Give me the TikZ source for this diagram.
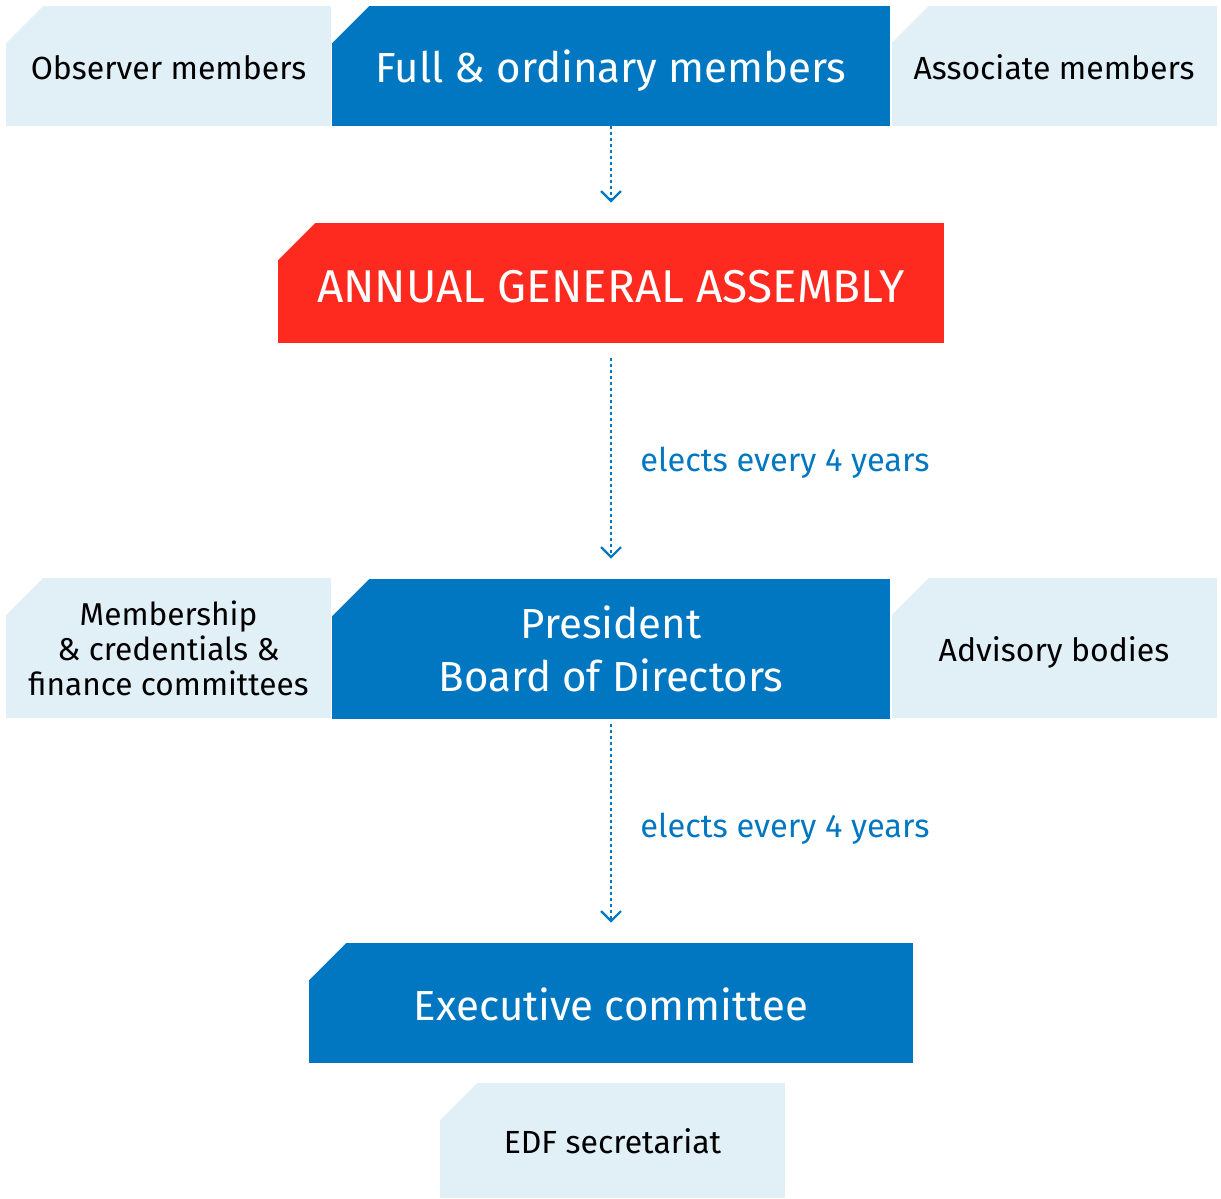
\documentclass[tikz,border=0pt]{standalone}
\usepackage{fontspec}
\setmainfont{Fira Sans}
\usepackage{tikz}
\usetikzlibrary{arrows.meta}
\definecolor{edfblue}{HTML}{0077C0}
\definecolor{edflight}{HTML}{E1EFF7}
\definecolor{edfred}{HTML}{FF2A1F}
\tikzstyle{cutbox}=[inner sep=0pt,align=center,
  path picture={\fill[white] (path picture bounding box.north west) -- ++(18.5pt,0pt) -- ++(-18.5pt,-18.5pt) -- cycle;}]

\begin{document}
\begin{tikzpicture}[x=0.5pt,y=-0.5pt]
\tikzstyle{side}=[cutbox,fill=edflight,text=black,minimum width=162.5pt,font=\fontsize{16}{17.5}\selectfont]
\tikzstyle{main}=[cutbox,fill=edfblue,text=white,font=\fontsize{21}{26.5}\selectfont]
\tikzstyle{sideline}=[text height=13pt,text depth=0pt]
\tikzstyle{mainline}=[text height=17pt,text depth=0pt]
\tikzstyle{link}=[edfblue,line width=1.1pt,dash pattern=on 1.1pt off 1.9pt,-{Straight Barb[length=5pt,width=10pt]},shorten >=10pt]
\tikzstyle{note}=[anchor=base west,inner sep=0pt,text=edfblue,font=\fontsize{16.3}{20}\selectfont]
\useasboundingbox (0,0) rectangle (1221,1199);
  % top row
  \node[side,sideline,minimum height=60pt] (obs) at (168.5,66) {Observer members};
  \node[main,mainline,minimum width=279pt,minimum height=60pt] (full) at (611,66) {Full \& ordinary members};
  \node[side,sideline,minimum height=60pt] (assoc) at (1054,66) {Associate members};
  \node[cutbox,fill=edfred,text=white,font=\fontsize{23}{26}\selectfont,text height=19pt,text depth=0pt,
        minimum width=333pt,minimum height=60pt] (aga) at (611,283) {ANNUAL GENERAL ASSEMBLY};
  % middle row
  \node[side,font=\fontsize{15.8}{17.5}\selectfont,minimum height=70pt] (memb) at (168.5,648) {Membership\\\& credentials \&\\finance committees};
  \node[main,minimum width=279pt,minimum height=70pt] (pres) at (611,649) {President\\Board of Directors};
  \node[side,sideline,minimum height=70pt] (adv) at (1054,648) {Advisory bodies};
  % bottom
  \node[main,mainline,minimum width=302pt,minimum height=60pt] (exec) at (611,1003) {Executive committee};
  \node[side,sideline,minimum width=172.5pt,minimum height=57.5pt] (edf) at (612.5,1140.5) {EDF secretariat};
  \foreach \source/\dest/\gap in {full/aga/0pt,aga/pres/7.5pt,pres/exec/2.5pt}
      \path (\source.south) edge[link,shorten <=\gap] (\source.south |- \dest.north);
  \node[note] (lab1) at (640,471) {elects every 4 years};
  \node[note] (lab2) at (640,837) {elects every 4 years};
\end{tikzpicture}
\end{document}
